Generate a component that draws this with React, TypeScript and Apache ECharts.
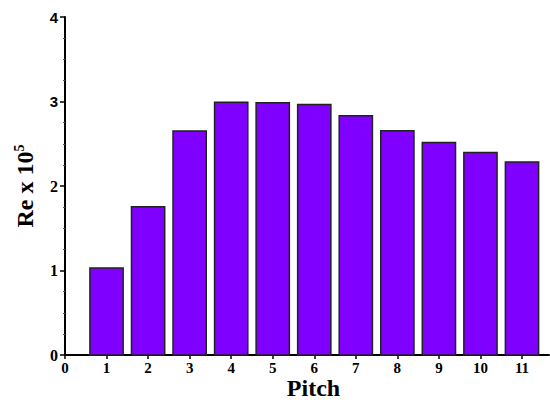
import React, { useEffect, useRef } from "react";
import * as echarts from "echarts";

// Reynolds number (x 10^5) for each pitch setting
const pitches = [1, 2, 3, 4, 5, 6, 7, 8, 9, 10, 11];
const reValues = [1.03, 1.755, 2.65, 2.99, 2.985, 2.965, 2.83, 2.655, 2.515, 2.395, 2.285];
const yTicks = [0, 1, 2, 3, 4];

const SERIF = "'Liberation Serif', 'Times New Roman', serif";
const SANS = "'Liberation Sans', Arial, sans-serif";
const BAR_FILL = "#7f00ff";

export default function App() {
  const ref = useRef<HTMLDivElement>(null);

  useEffect(() => {
    if (!ref.current) return;
    const chart = echarts.init(ref.current, null, { renderer: "svg" });
    const data = pitches.map((p, i) => [p, reValues[i]]);

    chart.setOption({
      animation: false,
      backgroundColor: "#ffffff",
      grid: { left: 65, right: 1, top: 17, bottom: 45, outerBoundsMode: "none", containLabel: false },
      xAxis: {
        type: "value",
        min: 0,
        max: 11.65,
        interval: 1,
        splitLine: { show: false },
        axisLine: { show: true, onZero: false, lineStyle: { color: "#000", width: 2 } },
        axisTick: { show: true, length: 4, lineStyle: { color: "#000", width: 1.5 } },
        axisLabel: {
          showMaxLabel: false,
          margin: 5,
          color: "#000",
          fontFamily: SERIF,
          fontWeight: "bold",
          fontSize: 15,
        },
        name: "Pitch",
        nameLocation: "middle",
        nameGap: 21,
        nameMoveOverlap: false,
        nameTextStyle: {
          color: "#000",
          fontFamily: SERIF,
          fontWeight: "bold",
          fontSize: 24,
          padding: [0, 0, 0, 13],
        },
      },
      yAxis: {
        type: "value",
        min: yTicks[0],
        max: yTicks[yTicks.length - 1],
        interval: 1,
        splitLine: { show: false },
        axisLine: { show: true, lineStyle: { color: "#000", width: 2 } },
        axisTick: { show: true, length: 5, lineStyle: { color: "#000", width: 1.5 } },
        minorTick: { show: true, splitNumber: 4, length: 2, lineStyle: { color: "#555", width: 1 } },
        axisLabel: {
          margin: 7,
          formatter: (v: number) => (v >= 3 ? `{s|${v}}` : `{r|${v}}`),
          rich: {
            s: { color: "#000", fontFamily: SANS, fontWeight: "bold", fontSize: 15 },
            r: { color: "#000", fontFamily: SERIF, fontWeight: "bold", fontSize: 16 },
          },
        },
        name: "Re x 10{sup|5}",
        nameLocation: "middle",
        nameGap: 27,
        nameMoveOverlap: false,
        nameTextStyle: {
          color: "#000",
          fontFamily: SERIF,
          fontWeight: "bold",
          fontSize: 24,
          rich: {
            sup: {
              color: "#000",
              fontFamily: SERIF,
              fontWeight: "bold",
              fontSize: 14,
              padding: [0, 0, 12, 0],
            },
          },
        },
      },
      series: [
        {
          type: "custom",
          data,
          encode: { x: 0, y: 1 },
          renderItem: (params: any, api: any) => {
            const x = api.value(0);
            const y = api.value(1);
            const top = api.coord([x, y]);
            const base = api.coord([x, 0]);
            const w = api.size([0.8, 0])[0];
            return {
              type: "rect",
              shape: { x: top[0] - w / 2, y: top[1], width: w, height: base[1] - top[1] },
              style: { fill: BAR_FILL, stroke: "#222", lineWidth: 1.5 },
            };
          },
        },
      ],
    });

    return () => chart.dispose();
  }, []);

  return <div ref={ref} style={{ width: 550, height: 400, position: "absolute", left: 0, top: 0 }} />;
}
